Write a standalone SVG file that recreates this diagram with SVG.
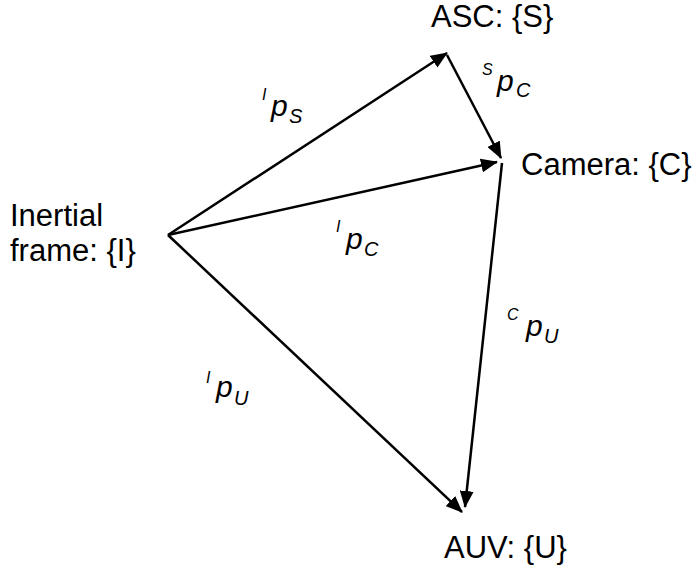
<svg xmlns="http://www.w3.org/2000/svg" width="699" height="573" viewBox="0 0 699 573">
<style>
.lbl{font-family:"Liberation Sans",Arial,sans-serif;font-size:31px;fill:#000}
.v{font-family:"Liberation Sans",Arial,sans-serif;font-style:italic;fill:#000}
.p{font-size:30px}
.sup{font-size:16px}
.sub{font-size:20px}
.edge{stroke:#000;stroke-width:2.5;fill:none;marker-end:url(#ah)}
</style>
<defs>
<marker id="ah" markerUnits="userSpaceOnUse" markerWidth="18" markerHeight="14" refX="16" refY="7" orient="auto">
<path d="M0,0 L17,7 L0,14 z" fill="#000"/>
</marker>
</defs>
<rect width="699" height="573" fill="#fff"/>
<g id="connectors">
<line class="edge" x1="168" y1="235" x2="447" y2="53"/>
<line class="edge" x1="447" y1="55" x2="501" y2="158"/>
<line class="edge" x1="168" y1="235" x2="497" y2="162"/>
<line class="edge" x1="502" y1="163" x2="465" y2="507"/>
<line class="edge" x1="168" y1="235" x2="462" y2="512"/>
</g>
<g id="node-I"><text class="lbl" x="10" y="226">Inertial</text><text class="lbl" x="10" y="261">frame: {I}</text></g>
<g id="node-S"><text class="lbl" x="431" y="27">ASC: {S}</text></g>
<g id="node-C"><text class="lbl" x="521" y="175">Camera: {C}</text></g>
<g id="node-U"><text class="lbl" x="444" y="558">AUV: {U}</text></g>
<g id="label-IpS"><text class="v sup" x="262" y="100">I</text><text class="v p" x="271" y="116">p</text><text class="v sub" x="289" y="123">S</text></g>
<g id="label-SpC"><text class="v sup" x="482" y="75">S</text><text class="v p" x="497" y="91">p</text><text class="v sub" x="516" y="97">C</text></g>
<g id="label-IpC"><text class="v sup" x="336" y="232">I</text><text class="v p" x="346" y="249">p</text><text class="v sub" x="364" y="256">C</text></g>
<g id="label-CpU"><text class="v sup" x="507" y="320">C</text><text class="v p" x="526" y="336">p</text><text class="v sub" x="544" y="343">U</text></g>
<g id="label-IpU"><text class="v sup" x="206" y="383">I</text><text class="v p" x="216" y="397">p</text><text class="v sub" x="234" y="405">U</text></g>
</svg>
